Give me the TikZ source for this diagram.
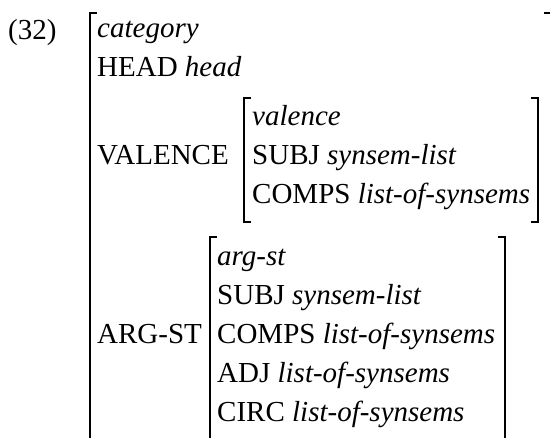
\documentclass[tikz,border=0pt]{standalone}
\usepackage{fontspec}
\setmainfont{Liberation Serif}
\usetikzlibrary{calc}
\tikzset{
	avmtext/.style={anchor=base west, inner sep=0pt, font=\fontsize{29}{34}\selectfont},
	avmbrack/.style={line width=1.6pt}
}
\def\lbrack(#1,#2,#3){\draw[avmbrack] (#1+7, #2) -- (#1, #2) -- (#1, #3) -- (#1+7, #3);}
\def\rbrack(#1,#2,#3){\draw[avmbrack] (#1-7, #2) -- (#1, #2) -- (#1, #3) -- (#1-7, #3);}

\begin{document}
\begin{tikzpicture}[x=1pt, y=-1pt]
	%%%%% START %%%%%
	\useasboundingbox (0, 0) rectangle (550, 438);
	
	\node[avmtext] (ex) at (8, 40) {(32)};
	
	% outer matrix
	\lbrack(90,13,460)
	\rbrack(551,13,460)
	\node[avmtext] (cat) at (97, 38) {\textit{category}};
	\node[avmtext] (head) at (97, 77) {HEAD \textit{head}};
	\node[avmtext] (val) at (97, 165) {VALENCE};
	\node[avmtext] (argst) at (97, 344) {ARG-ST};
	
	% valence
	\lbrack(244,98,222)
	\rbrack(538,98,222)
	\node[avmtext] (valtype) at (252, 126) {\textit{valence}};
	\node[avmtext] (valsubj) at (252, 165) {SUBJ \textit{synsem-list}};
	\node[avmtext] (valcomps) at (252, 204) {COMPS \textit{list-of-synsems}};
	
	% arg-st
	\lbrack(210,237,460)
	\rbrack(505,237,460)
	\node[avmtext] (argtype) at (217, 266) {\textit{arg-st}};
	\node[avmtext] (argsubj) at (217, 305) {SUBJ \textit{synsem-list}};
	\node[avmtext] (argcomps) at (217, 344) {COMPS \textit{list-of-synsems}};
	\node[avmtext] (argadj) at (217, 383) {ADJ \textit{list-of-synsems}};
	\node[avmtext] (argcirc) at (217, 422) {CIRC \textit{list-of-synsems}};
	
	%%%%% END %%%%%
\end{tikzpicture}
\end{document}
